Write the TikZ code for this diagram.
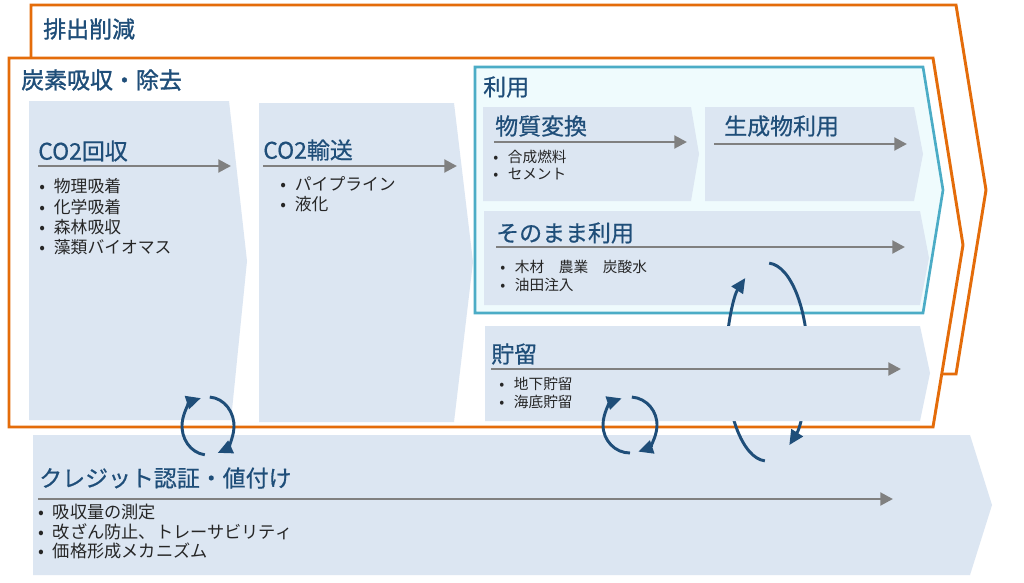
\documentclass[tikz,border=0pt]{standalone}
\usepackage{fontspec}
\setmainfont{Noto Sans CJK JP}
\newfontfamily\ttlfont{Noto Sans CJK JP}[FakeBold=0.6]
\newfontfamily\ttlbold{Noto Sans CJK JP}[FakeBold=1.3]
\usetikzlibrary{arrows.meta,calc}
\definecolor{org}{HTML}{E46C0A}
\definecolor{boxfill}{HTML}{DCE6F2}
\definecolor{cyanline}{HTML}{4BACC6}
\definecolor{cyanfill}{HTML}{EFFBFD}
\definecolor{ttlblue}{HTML}{1F4E79}
\definecolor{cycblue}{HTML}{1F4E79}
\definecolor{arrgray}{HTML}{808080}
\definecolor{btxtc}{HTML}{262626}
\newcommand\bitem[5][btxt]{\node[#1] (#2) at (#3,#4) {\makebox[11pt][l]{•}#5};}
\begin{document}
\begin{tikzpicture}[x=0.75pt,y=-0.75pt,
  orgshape/.style={draw=org, line width=2.2pt, fill=white, line join=miter},
  lbox/.style={fill=boxfill, draw=none},
  ttl/.style={anchor=west, inner sep=0pt, text=ttlblue, font=\ttlfont\fontsize{17.2}{20}\selectfont},
  ttlb/.style={ttl, font=\ttlbold\fontsize{17.2}{20}\selectfont},
  btxt/.style={anchor=west, inner sep=0pt, text=btxtc, font=\fontsize{12.6}{15}\selectfont},
  bsmall/.style={btxt, font=\fontsize{11}{13}\selectfont},
  garrow/.style={draw=arrgray, line width=2.2pt, -{Triangle[length=9.5pt,width=9.5pt]}},
  cyc/.style={draw=cycblue, line width=2.2pt, -{Triangle[length=11pt,width=10pt]}}]
\useasboundingbox (0,0) rectangle (1024,582);
\fill[white] (0,0) rectangle (1024,582);

% outer shapes
\draw[orgshape] (31,5) -- (956,5) -- (986,190) -- (956,374) -- (31,374) -- cycle;
\draw[orgshape] (9,58) -- (933,58) -- (963,245) -- (933,427) -- (9,427) -- cycle;

% left boxes
\fill[lbox] (29,101) -- (229,101) -- (247,261) -- (231,420) -- (29,420) -- cycle;
\fill[lbox] (259,103) -- (454,103) -- (473,262) -- (454,422) -- (259,422) -- cycle;

% 利用 container
\draw[fill=cyanfill, draw=cyanline, line width=2pt] (475,67) -- (923,67) -- (943,190) -- (923,313) -- (475,313) -- cycle;
\fill[lbox] (483,107) -- (691,107) -- (699,154) -- (691,201) -- (483,201) -- cycle;
\fill[lbox] (705,107) -- (914,107) -- (923,154) -- (914,201) -- (705,201) -- cycle;
\fill[lbox] (484,211) -- (920,211) -- (929,258) -- (920,305) -- (484,305) -- cycle;

% credit box
\fill[lbox] (33,435) -- (970,435) -- (992,505) -- (970,575) -- (33,575) -- cycle;

% big cycle (partly behind 貯留)
\coordinate (bigc) at (767,362);
\draw[cyc] ($(bigc)+(93:41 and 99)$) arc[start angle=93, end angle=238, x radius=41, y radius=99];
\draw[cyc] ($(bigc)+(-87:41 and 99)$) arc[start angle=-87, end angle=57, x radius=41, y radius=99];

% 貯留 box
\fill[lbox] (485,326) -- (920,326) -- (930,373) -- (920,421) -- (485,421) -- cycle;

% small cycles
\coordinate (c1) at (208,426);
\draw[cyc] ($(c1)+(97:26 and 29)$) arc[start angle=97, end angle=254, x radius=26, y radius=29];
\draw[cyc] ($(c1)+(-86:26 and 29)$) arc[start angle=-86, end angle=68, x radius=26, y radius=29];
\coordinate (c2) at (630,425);
\draw[cyc] ($(c2)+(90:27 and 28)$) arc[start angle=90, end angle=252, x radius=27, y radius=28];
\draw[cyc] ($(c2)+(-86:27 and 28)$) arc[start angle=-86, end angle=72, x radius=27, y radius=28];

% titles
\node[ttlb] (t0) at (43,29) {排出削減};
\node[ttlb] (t1) at (21,80) {炭素吸収・除去};
\node[ttl] (t2) at (483,87) {利用};
\node[ttl] (t3) at (38,151) {CO2回収};
\node[ttl] (t4) at (263,150) {CO2輸送};
\node[ttl] (t5) at (495,126) {物質変換};
\node[ttl] (t6) at (724,126) {生成物利用};
\node[ttl] (t7) at (496,233) {そのまま利用};
\node[ttl] (t8) at (491,354) {貯留};
\node[ttl] (t9) at (39,478) {クレジット認証・値付け};

% gray arrows
\coordinate (a3s) at (38,166);  \coordinate (a3e) at (231,166);
\coordinate (a4s) at (263,166); \coordinate (a4e) at (457,166);
\coordinate (a5s) at (494,142); \coordinate (a5e) at (687,142);
\coordinate (a6s) at (714,144); \coordinate (a6e) at (907,144);
\coordinate (a7s) at (496,247); \coordinate (a7e) at (905,247);
\coordinate (a8s) at (491,369); \coordinate (a8e) at (901,369);
\coordinate (a9s) at (38,499);  \coordinate (a9e) at (893,499);
\foreach \i in {3,...,9} {\draw[garrow] (a\i s) -- (a\i e);}

% bullets
\bitem{b31}{39}{186}{物理吸着}
\bitem{b32}{39}{207}{化学吸着}
\bitem{b33}{39}{227}{森林吸収}
\bitem{b34}{39}{247}{藻類バイオマス}
\bitem{b41}{280}{184}{パイプライン}
\bitem{b42}{280}{204}{液化}
\bitem[bsmall]{b51}{493}{157}{合成燃料}
\bitem[bsmall]{b52}{493}{174}{セメント}
\bitem[bsmall]{b71}{500}{267}{木材　農業　炭酸水}
\bitem[bsmall]{b72}{500}{285}{油田注入}
\bitem[bsmall]{b81}{499}{384}{地下貯留}
\bitem[bsmall]{b82}{499}{402}{海底貯留}
\bitem[btxt, font=\fontsize{12.9}{15}\selectfont]{b91}{38}{512}{吸収量の測定}
\bitem[btxt, font=\fontsize{12.9}{15}\selectfont]{b92}{38}{532}{改ざん防止、トレーサビリティ}
\bitem[btxt, font=\fontsize{12.9}{15}\selectfont]{b93}{38}{551}{価格形成メカニズム}
\end{tikzpicture}
\end{document}
